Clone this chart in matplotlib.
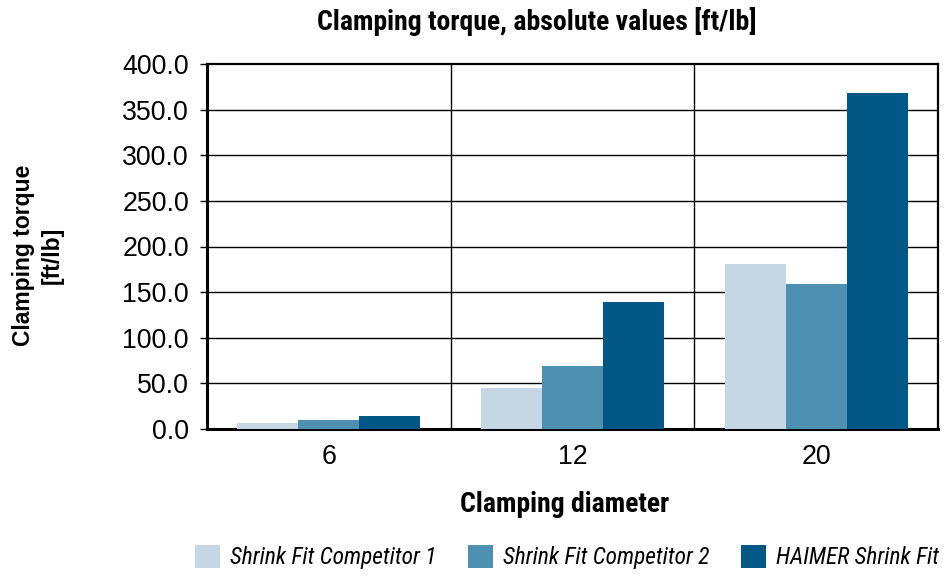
import matplotlib.pyplot as plt
from matplotlib.patches import Patch
import numpy as np

diameters = ['6', '12', '20']
competitor_1 = [6.6, 44.9, 180.8]
competitor_2 = [9.9, 69.0, 158.9]
haimer = [14.2, 139.0, 368.2]
series_names = ['Shrink Fit Competitor 1', 'Shrink Fit Competitor 2', 'HAIMER Shrink Fit']
colors = ['#c5d7e5', '#4e90b2', '#015886']

narrow = ['Roboto Condensed', 'DejaVu Sans']
regular = ['Liberation Sans', 'DejaVu Sans']


def main():
    fig = plt.figure(figsize=(9.43, 5.76), dpi=100)
    ax = fig.add_axes([207 / 943, 1 - 429 / 576, 731 / 943, 365 / 576])

    x = np.arange(len(diameters))
    width = 0.25
    for i, (vals, color) in enumerate(zip([competitor_1, competitor_2, haimer], colors)):
        ax.bar(x + (i - 1) * width, vals, width, color=color, zorder=3)

    ax.set_xlim(-0.5, 2.5)
    ax.set_ylim(0, 400)
    ax.set_yticks(np.arange(0, 401, 50))
    ax.set_yticklabels([f'{v:.1f}' for v in range(0, 401, 50)], family=regular, fontsize=19.3)
    ax.set_xticks(x)
    ax.set_xticklabels(diameters, family=regular, fontsize=19.3)

    for y in range(50, 400, 50):
        ax.axhline(y, color='black', lw=1, zorder=1)
    for xb in [0.5, 1.5]:
        ax.axvline(xb, color='black', lw=1, zorder=1)

    ax.tick_params(axis='y', length=5, width=1, pad=8)
    ax.tick_params(axis='x', length=0, pad=11)
    for side in ['left', 'bottom']:
        ax.spines[side].set_linewidth(2.2)
    for side in ['top', 'right']:
        ax.spines[side].set_linewidth(1.6)

    fig.text(537 / 943, 1 - 22 / 576, 'Clamping torque, absolute values [ft/lb]',
             family=narrow, fontweight='bold', fontsize=20, ha='center', va='center')
    fig.text(565 / 943, 1 - 505 / 576, 'Clamping diameter',
             family=narrow, fontweight='bold', fontsize=20, ha='center', va='center')
    fig.text(38 / 943, 1 - 255 / 576, 'Clamping torque\n[ft/lb]',
             family=regular, fontweight='bold', fontsize=16.5, ha='center', va='center',
             rotation=90, linespacing=1.3)

    handles = [Patch(facecolor=c, edgecolor='none') for c in colors]
    fig.legend(handles, series_names, loc='center', ncol=3,
               bbox_to_anchor=(567 / 943, 1 - 557 / 576), frameon=False,
               prop={'family': narrow, 'style': 'italic', 'size': 16.8},
               handlelength=1.05, handleheight=1.15, handletextpad=0.45,
               columnspacing=1.35, borderpad=0, borderaxespad=0)

    fig.savefig('out.png', dpi=100)


if __name__ == '__main__':
    main()
